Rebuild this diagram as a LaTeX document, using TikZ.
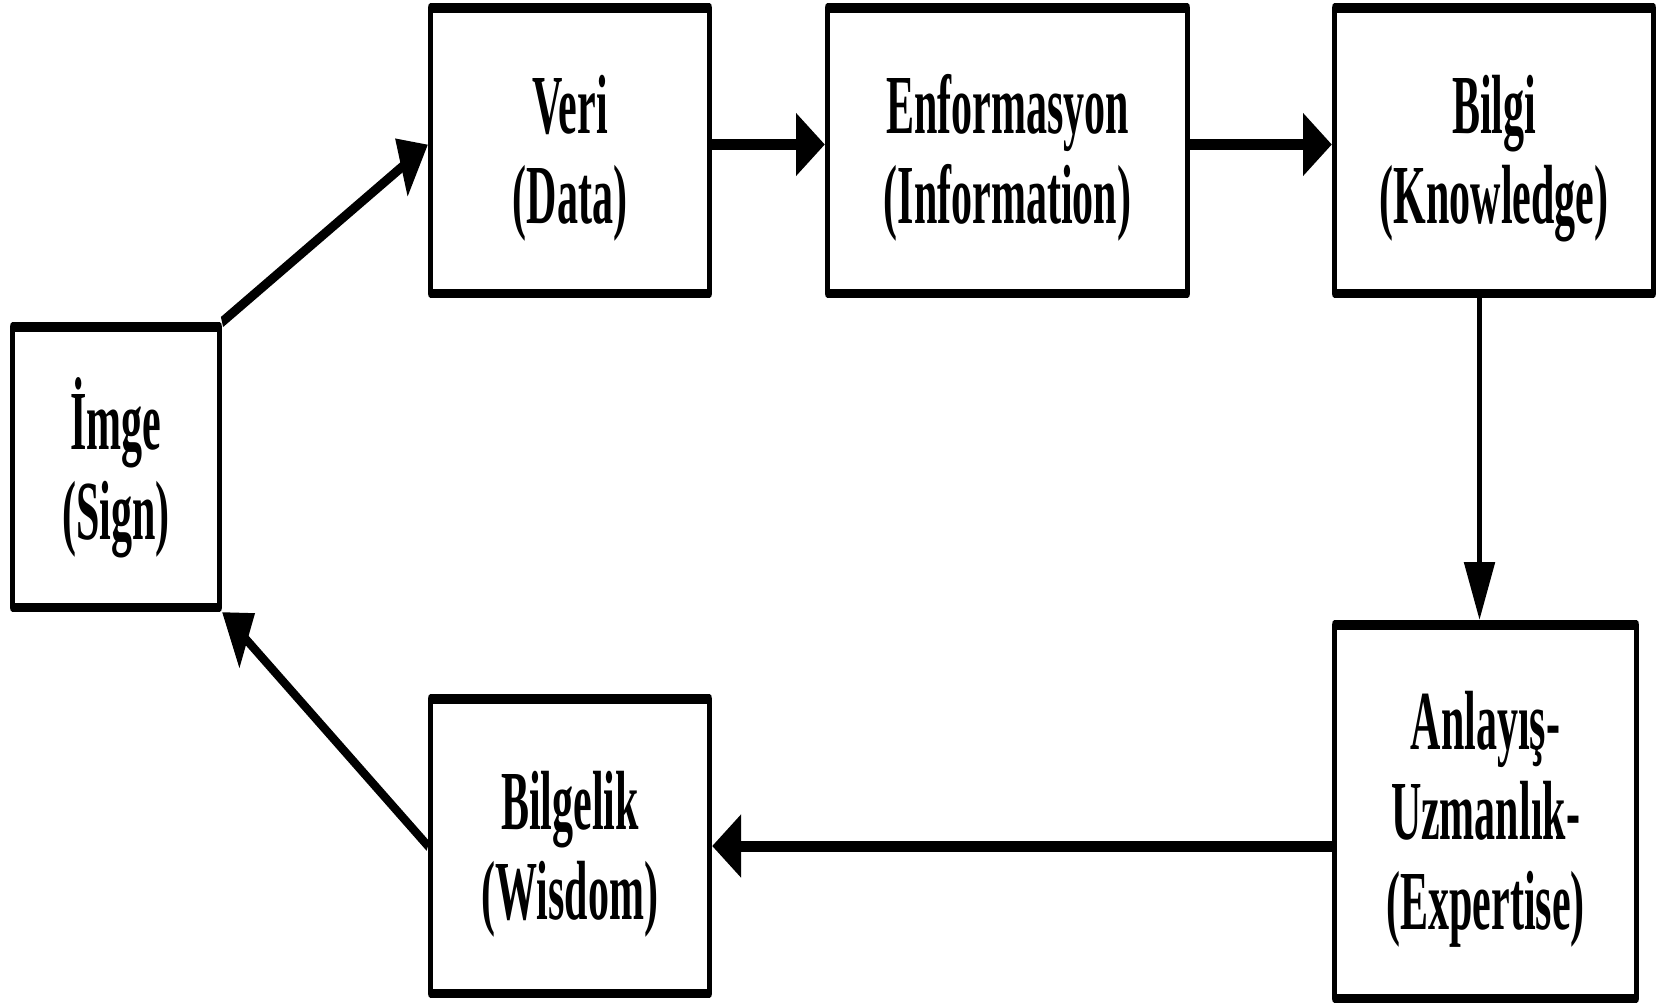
\documentclass[tikz,border=0pt]{standalone}
\usepackage{fontspec}
\setmainfont{Liberation Serif}
\usetikzlibrary{arrows.meta}
% lifts the first line of every label to the same height
\newcommand\firstline{\rule{0pt}{74pt}}
\begin{document}
\begin{tikzpicture}[x=1pt, y=-1pt,
  box/.style={draw, line width=9.5pt, line join=round, inner sep=0pt,
    align=center, font=\fontsize{84}{90}\selectfont\bfseries},
  link/.style={line width=11pt, -{Triangle[length=58pt, width=60pt]}}]
\fill[white] (0,0) rectangle (1656,1004);
\useasboundingbox (0,0) rectangle (1656,1004);
% the whole cycle is laid out twice as wide and narrowed on the canvas
\begin{scope}[overlay, transform canvas={xscale=0.5}]
  \node[box, minimum width=414.5pt, minimum height=280.5pt] (imge) at (232,467)
    {\firstline İmge\\(Sign)};
  \node[box, minimum width=558.5pt, minimum height=285.5pt] (veri) at (1140,150.5)
    {\firstline Veri\\(Data)};
  \node[box, minimum width=720.5pt, minimum height=285.5pt] (enf) at (2015,150.5)
    {\firstline Enformasyon\\(Information)};
  \node[box, minimum width=638.5pt, minimum height=285.5pt] (bilgi) at (2988,150.5)
    {\firstline Bilgi\\(Knowledge)};
  \node[box, minimum width=604.5pt, minimum height=373.5pt] (exp) at (2971,811.5)
    {\firstline Anlayış-\\Uzmanlık-\\(Expertise)};
  \node[box, minimum width=558.5pt, minimum height=294.5pt] (bilgelik) at (1140,846)
    {\firstline Bilgelik\\(Wisdom)};

  \draw[link] (imge.north east) -- ([yshift=6pt]veri.west);
  \draw[link] ([yshift=6pt]veri.east) -- ([yshift=6pt]enf.west);
  \draw[link] ([yshift=6pt]enf.east) -- ([yshift=6pt]bilgi.west);
  \coordinate (drop) at ([xshift=-12pt]exp.north);
  \draw[link] (drop |- bilgi.south) -- (drop);
  \draw[link] (bilgelik.east -| exp.west) -- (bilgelik.east);
  \draw[link] (bilgelik.west) -- (imge.south east);
\end{scope}
\end{tikzpicture}
\end{document}
